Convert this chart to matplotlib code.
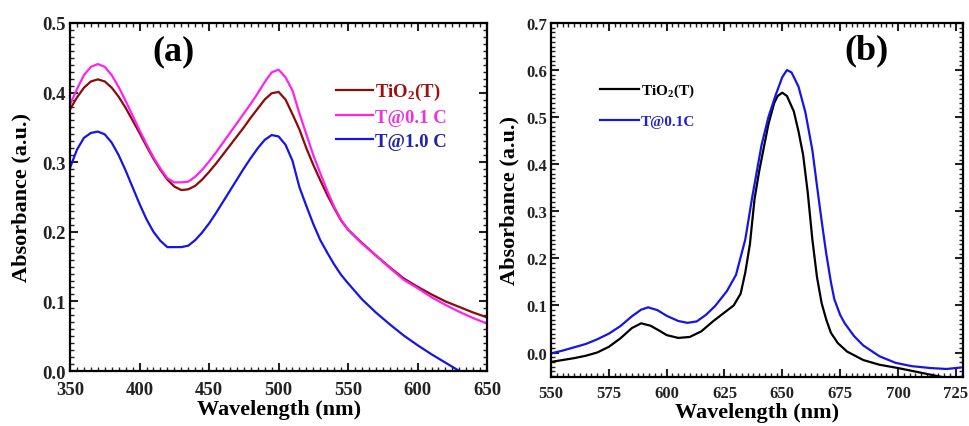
import numpy as np
import matplotlib
matplotlib.use('Agg')
import matplotlib.pyplot as plt
from matplotlib.ticker import MultipleLocator, FormatStrFormatter

# --- panel (a): UV-vis of the films ---
wl_a = [350, 355, 360, 365, 370, 375, 380, 385, 390, 395, 400, 405, 410, 415, 420,
        425, 430, 435, 440, 445, 450, 455, 460, 465, 470, 475, 480, 485, 490, 495,
        500, 505, 510, 515, 520, 525, 530, 535, 540, 545, 550, 560, 570, 580, 590,
        600, 610, 620, 630, 640, 650]
tio2_a = [0.376, 0.393, 0.407, 0.416, 0.419, 0.416, 0.407, 0.394, 0.378, 0.360, 0.342,
          0.323, 0.305, 0.289, 0.275, 0.265, 0.260, 0.261, 0.266, 0.275, 0.286, 0.298,
          0.311, 0.324, 0.337, 0.350, 0.364, 0.377, 0.390, 0.399, 0.401, 0.390, 0.369,
          0.347, 0.320, 0.296, 0.274, 0.253, 0.234, 0.216, 0.203, 0.184, 0.166, 0.149,
          0.133, 0.121, 0.110, 0.100, 0.092, 0.084, 0.077]
t01c_a = [0.383, 0.405, 0.425, 0.437, 0.441, 0.437, 0.425, 0.408, 0.388, 0.367, 0.346,
          0.326, 0.307, 0.291, 0.277, 0.271, 0.271, 0.272, 0.279, 0.289, 0.301, 0.314,
          0.328, 0.342, 0.356, 0.370, 0.384, 0.399, 0.415, 0.429, 0.433, 0.422, 0.403,
          0.370, 0.340, 0.310, 0.284, 0.259, 0.236, 0.217, 0.203, 0.183, 0.166, 0.148,
          0.131, 0.119, 0.106, 0.095, 0.085, 0.076, 0.068]
t10c_a = [0.292, 0.318, 0.335, 0.342, 0.344, 0.340, 0.328, 0.310, 0.288, 0.264, 0.240,
          0.218, 0.200, 0.187, 0.178, 0.178, 0.178, 0.180, 0.188, 0.199, 0.212, 0.227,
          0.243, 0.259, 0.275, 0.291, 0.306, 0.320, 0.332, 0.339, 0.337, 0.325, 0.302,
          0.264, 0.237, 0.211, 0.188, 0.170, 0.153, 0.138, 0.126, 0.103, 0.084, 0.067,
          0.051, 0.037, 0.024, 0.012, 0.000, -0.010, -0.020]

# --- panel (b) ---
wl_b_tio2 = [550, 555, 560, 565, 570, 575, 580, 585, 589, 593, 597, 600, 605, 610, 615,
             620, 625, 629, 632, 634, 636, 638, 640, 642, 644, 646.5, 648, 650, 652, 655,
             657, 659, 661, 663, 665, 667, 669, 671, 674, 678, 685, 692, 700, 707, 714,
             720, 727]
tio2_b = [-0.020, -0.016, -0.012, -0.007, 0.000, 0.012, 0.030, 0.052, 0.062, 0.057, 0.046,
          0.037, 0.031, 0.033, 0.045, 0.066, 0.085, 0.100, 0.125, 0.170, 0.230, 0.326,
          0.385, 0.435, 0.485, 0.530, 0.545, 0.552, 0.545, 0.512, 0.470, 0.420, 0.340,
          0.240, 0.160, 0.105, 0.070, 0.042, 0.020, 0.002, -0.016, -0.026, -0.033,
          -0.040, -0.047, -0.053, -0.058]
wl_b_t01 = [550, 555, 560, 565, 570, 575, 580, 585, 589, 592, 596, 600, 605, 609, 613,
            617, 621, 626, 630, 634, 637, 641, 644, 647, 650, 652, 654, 657, 660, 663,
            665, 667, 669, 671, 672.5, 675, 677, 681, 685, 692, 699, 706, 714, 721, 727]
t01c_b = [-0.002, 0.004, 0.011, 0.018, 0.028, 0.040, 0.056, 0.077, 0.091, 0.096, 0.090,
          0.078, 0.067, 0.063, 0.066, 0.080, 0.099, 0.130, 0.165, 0.240, 0.330, 0.440,
          0.500, 0.545, 0.585, 0.600, 0.595, 0.565, 0.510, 0.430, 0.354, 0.280, 0.210,
          0.150, 0.113, 0.080, 0.062, 0.035, 0.015, -0.008, -0.022, -0.029, -0.033,
          -0.035, -0.032]

plt.rcParams['font.family'] = ['Liberation Serif', 'DejaVu Serif']
plt.rcParams['font.weight'] = 'bold'
plt.rcParams['mathtext.fontset'] = 'custom'
plt.rcParams['mathtext.rm'] = 'Liberation Serif:bold'
plt.rcParams['mathtext.bf'] = 'Liberation Serif:bold'
plt.rcParams['mathtext.it'] = 'Liberation Serif:bold:italic'


def style_axes(ax, xmaj, xmin, ymaj, ymin, xl_y, yl_x, tsize, xpad):
    for s in ax.spines.values():
        s.set_linewidth(1.6)
    ax.xaxis.set_major_locator(MultipleLocator(xmaj))
    ax.xaxis.set_minor_locator(MultipleLocator(xmin))
    ax.yaxis.set_major_locator(MultipleLocator(ymaj))
    ax.yaxis.set_minor_locator(MultipleLocator(ymin))
    ax.yaxis.set_major_formatter(FormatStrFormatter('%.1f'))
    ax.tick_params(which='both', direction='in', top=True, right=True,
                   labelsize=tsize, colors='#222222')
    ax.tick_params(which='major', length=6, width=1.5)
    ax.tick_params(which='minor', length=3, width=1.0)
    ax.tick_params(axis='x', pad=xpad)
    ax.tick_params(axis='y', pad=3)
    for lb in ax.get_xticklabels() + ax.get_yticklabels():
        lb.set_fontweight('bold')
    ax.set_xlabel('Wavelength (nm)', fontsize=16, fontweight='bold')
    ax.set_ylabel('Absorbance (a.u.)', fontsize=16, fontweight='bold')
    ax.xaxis.set_label_coords(0.5, xl_y)
    ax.yaxis.set_label_coords(yl_x, 0.5)


fig = plt.figure(figsize=(9.7, 4.27), dpi=100)
ax1 = fig.add_axes([0.0722, 0.1288, 0.430, 0.815])
ax2 = fig.add_axes([0.568, 0.1148, 0.4245, 0.829])

# (a)
ax1.plot(wl_a, tio2_a, color='#8b0a0a', lw=1.6, label=r'TiO$_2$(T)')
ax1.plot(wl_a, t01c_a, color='#ff22ee', lw=1.6, label='T@0.1 C')
ax1.plot(wl_a, t10c_a, color='#1515e6', lw=1.6, label='T@1.0 C')
ax1.set_xlim(350, 650)
ax1.set_ylim(0, 0.5)
style_axes(ax1, 50, 5, 0.1, 0.01, -0.08, -0.092, 13.5, 7)
leg1 = ax1.legend(loc='upper left', bbox_to_anchor=(0.615, 0.86), frameon=False,
                  fontsize=13.5, handlelength=2.0, handletextpad=0.1,
                  labelspacing=0.35, borderpad=0)
for txt, c in zip(leg1.get_texts(), ['#a01010', '#ee33dd', '#2222aa']):
    txt.set_color(c)
    txt.set_fontweight('bold')
ax1.text(0.247, 0.92, '(a)', transform=ax1.transAxes, fontsize=26,
         fontweight='bold', ha='center', va='center')

# (b)
ax2.plot(wl_b_tio2, tio2_b, color='black', lw=1.6, label=r'TiO$_2$(T)')
ax2.plot(wl_b_t01, t01c_b, color='#1515e6', lw=1.6, label='T@0.1C')
ax2.set_xlim(550, 728)
ax2.set_ylim(-0.052, 0.7)
style_axes(ax2, 25, 2.5, 0.1, 0.01, -0.07, -0.077, 12, 6)
leg2 = ax2.legend(loc='upper left', bbox_to_anchor=(0.10, 0.855), frameon=False,
                  fontsize=11, handlelength=2.6, handletextpad=0.1,
                  labelspacing=1.0, borderpad=0)
for txt, c in zip(leg2.get_texts(), ['black', '#2222cc']):
    txt.set_color(c)
    txt.set_fontweight('bold')
ax2.text(0.766, 0.925, '(b)', transform=ax2.transAxes, fontsize=26,
         fontweight='bold', ha='center', va='center')

fig.savefig('out.png', dpi=100)
